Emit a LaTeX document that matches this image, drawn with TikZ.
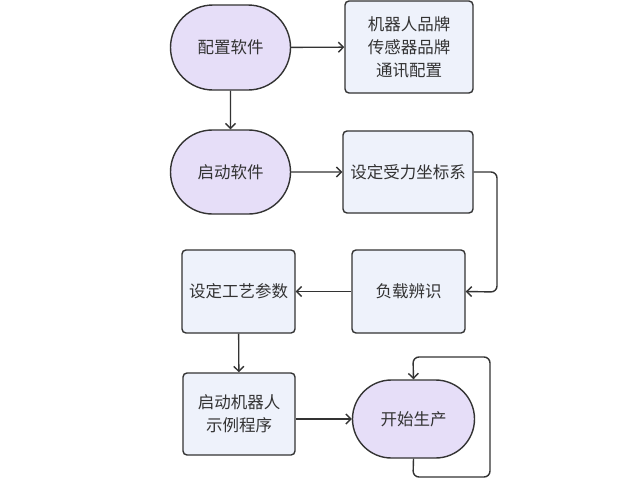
\documentclass[tikz,border=0pt]{standalone}
\usepackage{fontspec}
\setmainfont{Noto Sans CJK SC}
\usetikzlibrary{shapes.misc,arrows.meta}
\definecolor{lav}{HTML}{E6DEF8}
\definecolor{boxf}{HTML}{EEF2FB}
\definecolor{edge}{HTML}{333333}
\begin{document}
\begin{tikzpicture}[x=1pt,y=-1pt,
  stad/.style={rounded rectangle, draw=edge, fill=lav, line width=1.4pt, minimum width=120pt, minimum height=85pt, font=\fontsize{16.5}{22}\selectfont, text=black!80, inner sep=0pt},
  pbox/.style={rectangle, rounded corners=4pt, draw=edge, fill=boxf, line width=1.4pt, font=\fontsize{16.5}{23}\selectfont, text=black!80, align=center, inner sep=0pt},
  conn/.style={draw=edge, line width=1.4pt, -{Straight Barb[length=5pt,width=10pt]}, rounded corners=6pt}]
\useasboundingbox (0,0) rectangle (640,480);
\node[stad] (a) at (230.5,47.5) {配置软件};
\node[pbox, minimum width=128pt, minimum height=92pt] (b) at (409,47) {机器人品牌\\传感器品牌\\通讯配置};
\node[stad, minimum height=84pt] (c) at (230.5,172) {启动软件};
\node[pbox, minimum width=130pt, minimum height=82pt] (d) at (408,172) {设定受力坐标系};
\node[pbox, minimum width=113pt, minimum height=83pt] (e) at (408.5,291.5) {负载辨识};
\node[pbox, minimum width=113pt, minimum height=83pt] (f) at (238.5,291.5) {设定工艺参数};
\node[pbox, minimum width=112pt, minimum height=82pt] (g) at (239,414) {启动机器人\\示例程序};
\node[stad, minimum width=122pt, minimum height=78pt] (h) at (413.5,419) {开始生产};
\coordinate (r1) at (497,172);
\coordinate (r2) at (497,292);
\coordinate (l1) at (413,477);
\coordinate (l2) at (490,477);
\coordinate (l3) at (490,357);
\coordinate (l4) at (413,357);
\draw[conn] (a) -- (b);
\draw[conn] (a) -- (c);
\draw[conn] (c) -- (d);
\draw[conn] (d.east) -- (r1) -- (r2) -- (e.east);
\draw[conn] (e) -- (f);
\draw[conn] (f) -- (g);
\draw[conn] (g.east |- h.west) -- (h.west);
\draw[conn] (h.south) -- (l1) -- (l2) -- (l3) -- (l4) -- (h.north);
\end{tikzpicture}
\end{document}
